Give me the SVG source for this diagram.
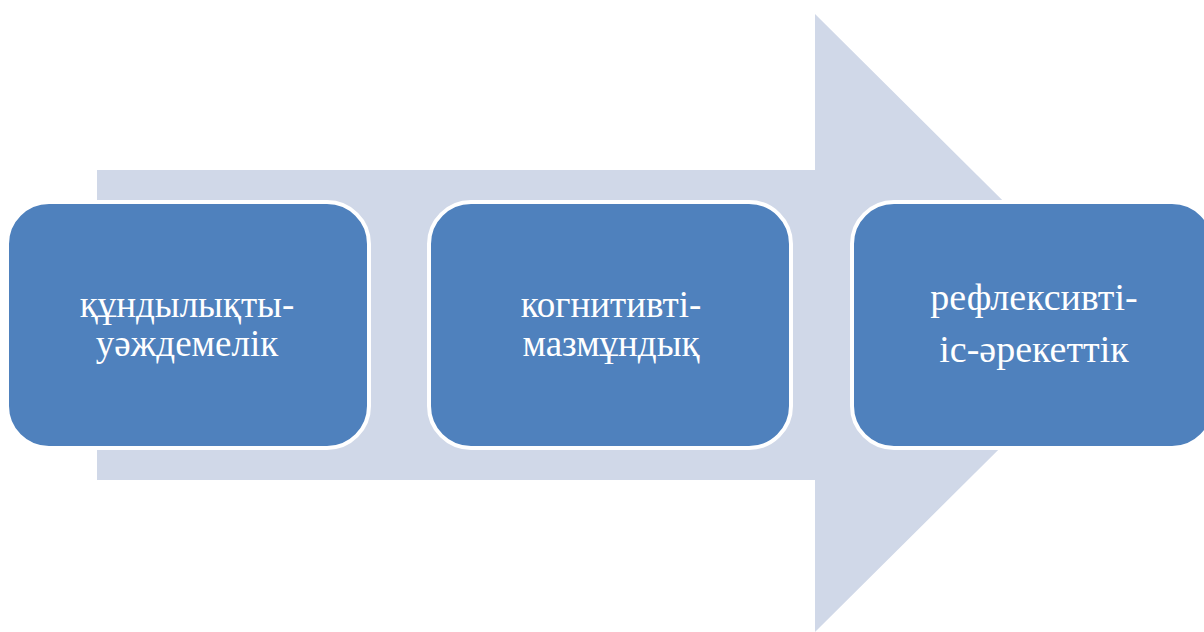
<svg xmlns="http://www.w3.org/2000/svg" width="1204" height="632" viewBox="0 0 1204 632">
<style>
.box{fill:#4F81BD;stroke:#FFFFFF;stroke-width:4}
.lbl{font-family:"Liberation Serif","Times New Roman",serif;font-size:37px;fill:#FFFFFF;text-anchor:middle}
</style>
<rect width="1204" height="632" fill="#FFFFFF"/>
<g id="connectors">
<polygon points="97,170 815,170 815,14 1126,323 815,632 815,480 97,480" fill="#D0D8E8"/>
</g>
<g id="node1">
<rect class="box" x="7" y="202" width="362" height="246" rx="42" ry="42"/>
<text class="lbl" x="187" y="317">құндылықты-</text>
<text class="lbl" x="187" y="356">уәждемелік</text>
</g>
<g id="node2">
<rect class="box" x="429" y="202" width="362" height="246" rx="42" ry="42"/>
<text class="lbl" x="611" y="317">когнитивті-</text>
<text class="lbl" x="611" y="356">мазмұндық</text>
</g>
<g id="node3">
<rect class="box" x="852" y="202" width="362" height="246" rx="42" ry="42"/>
<text class="lbl" x="1034" y="310" style="font-size:38px">рефлексивті-</text>
<text class="lbl" x="1034" y="362" style="font-size:38px">іс-әрекеттік</text>
</g>
</svg>
